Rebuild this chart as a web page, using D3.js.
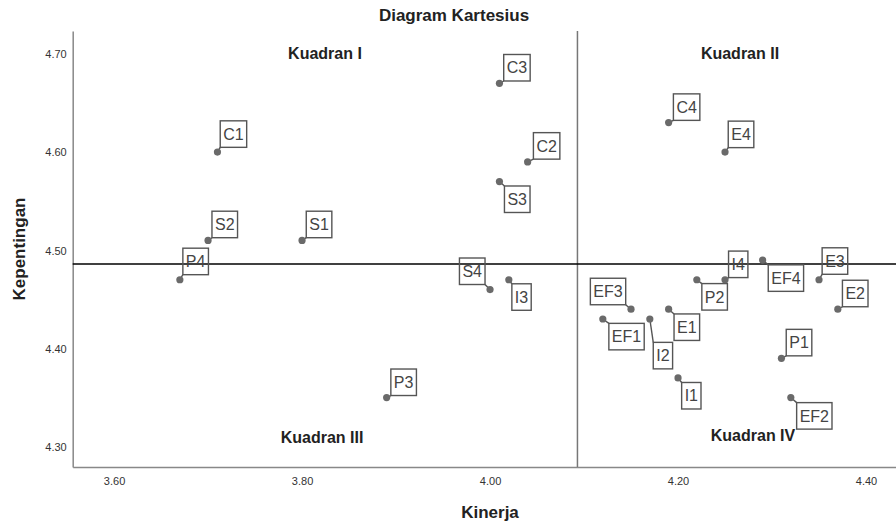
<!DOCTYPE html>
<html>
<head>
<meta charset="utf-8">
<script src="https://cdn.jsdelivr.net/npm/d3@7"></script>
<style>
  body { margin: 0; background: #fff; }
  text { font-family: "Liberation Sans", Arial, sans-serif; }
</style>
</head>
<body>
<div id="chart"></div>
<script>
const width = 896, height = 522;

// data
const names = ["C1", "C2", "C3", "C4", "S1", "S2", "S3", "S4", "P1", "P2", "P3", "P4",
               "I1", "I2", "I3", "I4", "E1", "E2", "E3", "E4", "EF1", "EF2", "EF3", "EF4"];
const kinerja = [3.71, 4.04, 4.01, 4.19, 3.80, 3.70, 4.01, 4.00, 4.31, 4.22, 3.89, 3.67,
                 4.20, 4.17, 4.02, 4.25, 4.19, 4.37, 4.35, 4.25, 4.12, 4.32, 4.15, 4.29];
const kepentingan = [4.60, 4.59, 4.67, 4.63, 4.51, 4.51, 4.57, 4.46, 4.39, 4.47, 4.35, 4.47,
                     4.37, 4.43, 4.47, 4.47, 4.44, 4.44, 4.47, 4.60, 4.43, 4.35, 4.44, 4.49];
const xTicks = [3.6, 3.8, 4.0, 4.2, 4.4];
const yTicks = [4.3, 4.4, 4.5, 4.6, 4.7];
const meanKinerja = 4.093;
const meanKepentingan = 4.486;
const quadNames = ["Kuadran I", "Kuadran II", "Kuadran III", "Kuadran IV"];

// label placement (box centre offset from the point, px)
const labelPos = {
  C1: [16, -18], C2: [19, -16], C3: [17.5, -15.6], C4: [18, -15.5],
  S1: [17, -16], S2: [16.7, -16], S3: [17.8, 17.7], S4: [-17.8, -18.3],
  P1: [17.6, -15.7], P2: [17.8, 17.1], P3: [17, -15.3], P4: [15.8, -18.3],
  I1: [13.3, 17.8], I2: [13.1, 36.6], I3: [12.7, 17.3], I4: [13.2, -15.4],
  E1: [18.2, 18], E2: [17.4, -15.7], E3: [15.9, -18.7], E4: [16, -17.7],
  EF1: [23.7, 17.6], EF2: [23.5, 18.3], EF3: [-23, -17.7], EF4: [23.3, 18]
};
// quadrant label anchors (px)
const quadPos = [[325, 59], [740, 58.5], [322, 442.5], [753, 441]];

const pLeft = 72.7, pRight = 896, pTop = 31, pBottom = 467;

const x = d3.scaleLinear().domain([3.556, 4.4319]).range([pLeft, pRight]);
const y = d3.scaleLinear().domain([4.2793, 4.7233]).range([pBottom, pTop]);

const svg = d3.select("#chart")
    .append("svg")
    .attr("width", width)
    .attr("height", height);

// title
svg.append("text")
    .attr("x", 454).attr("y", 21)
    .attr("text-anchor", "middle")
    .style("font-size", "17px").style("font-weight", "bold").attr("fill", "#222")
    .text("Diagram Kartesius");

// axes
const xAxis = svg.append("g")
    .attr("transform", `translate(0,${pBottom})`)
    .call(d3.axisBottom(x).tickValues(xTicks).tickSize(0).tickPadding(10).tickFormat(d3.format(".2f")));
const yAxis = svg.append("g")
    .attr("transform", `translate(${pLeft},0)`)
    .call(d3.axisLeft(y).tickValues(yTicks).tickSize(0).tickPadding(6).tickFormat(d3.format(".2f")));

[xAxis, yAxis].forEach(function(g) {
  g.select(".domain").attr("stroke", "#888").attr("stroke-width", 1.5);
  g.selectAll("text").style("font-size", "11px").attr("fill", "#333")
      .style("font-family", "'Liberation Sans', Arial, sans-serif");
});
yAxis.selectAll("text").attr("dy", "0.34em");

// axis titles
svg.append("text")
    .attr("x", 490).attr("y", 518)
    .attr("text-anchor", "middle")
    .style("font-size", "17px").style("font-weight", "bold").attr("fill", "#222")
    .text("Kinerja");
svg.append("text")
    .attr("transform", `translate(25,${(pTop + pBottom) / 2}) rotate(-90)`)
    .attr("text-anchor", "middle")
    .style("font-size", "17px").style("font-weight", "bold").attr("fill", "#222")
    .text("Kepentingan");

// reference lines
svg.append("line")
    .attr("x1", x(meanKinerja)).attr("x2", x(meanKinerja))
    .attr("y1", pTop).attr("y2", pBottom)
    .attr("stroke", "#777").attr("stroke-width", 1.5);
svg.append("line")
    .attr("x1", pLeft).attr("x2", pRight)
    .attr("y1", y(meanKepentingan)).attr("y2", y(meanKepentingan))
    .attr("stroke", "#000").attr("stroke-width", 1.3);

// quadrant labels
svg.selectAll(".quad")
    .data(quadNames)
    .join("text")
    .attr("class", "quad")
    .attr("x", (d, i) => quadPos[i][0])
    .attr("y", (d, i) => quadPos[i][1])
    .attr("text-anchor", "middle")
    .style("font-size", "16px").style("font-weight", "bold").attr("fill", "#222")
    .text(d => d);

const points = names.map((n, i) => ({ name: n, kx: kinerja[i], ky: kepentingan[i] }));

// labels
const lab = svg.selectAll(".lab")
    .data(points)
    .join("g")
    .attr("class", "lab");

const boxH = 26.5;
lab.each(function(d) {
  const g = d3.select(this);
  const px = x(d.kx), py = y(d.ky);
  const off = labelPos[d.name];
  const cx = px + off[0], cy = py + off[1];
  const t = g.append("text")
      .attr("x", cx).attr("y", cy)
      .attr("text-anchor", "middle")
      .attr("dy", "0.36em")
      .style("font-size", "16px").attr("fill", "#444")
      .text(d.name);
  const w = t.node().getComputedTextLength() + 6;
  // corner nearest to the point
  const kx = cx - Math.sign(off[0]) * w / 2;
  const ky = cy - Math.sign(off[1]) * boxH / 2;
  g.insert("line", "text")
      .attr("x1", px).attr("y1", py).attr("x2", kx).attr("y2", ky)
      .attr("stroke", "#555").attr("stroke-width", 1.4);
  g.insert("rect", "text")
      .attr("x", cx - w / 2).attr("y", cy - boxH / 2)
      .attr("width", w).attr("height", boxH)
      .attr("fill", "none").attr("stroke", "#555").attr("stroke-width", 1.4);
});

// points
svg.selectAll(".pt")
    .data(points)
    .join("circle")
    .attr("class", "pt")
    .attr("cx", d => x(d.kx))
    .attr("cy", d => y(d.ky))
    .attr("r", 3.6)
    .attr("fill", "#6a6a6a");
</script>
</body>
</html>
